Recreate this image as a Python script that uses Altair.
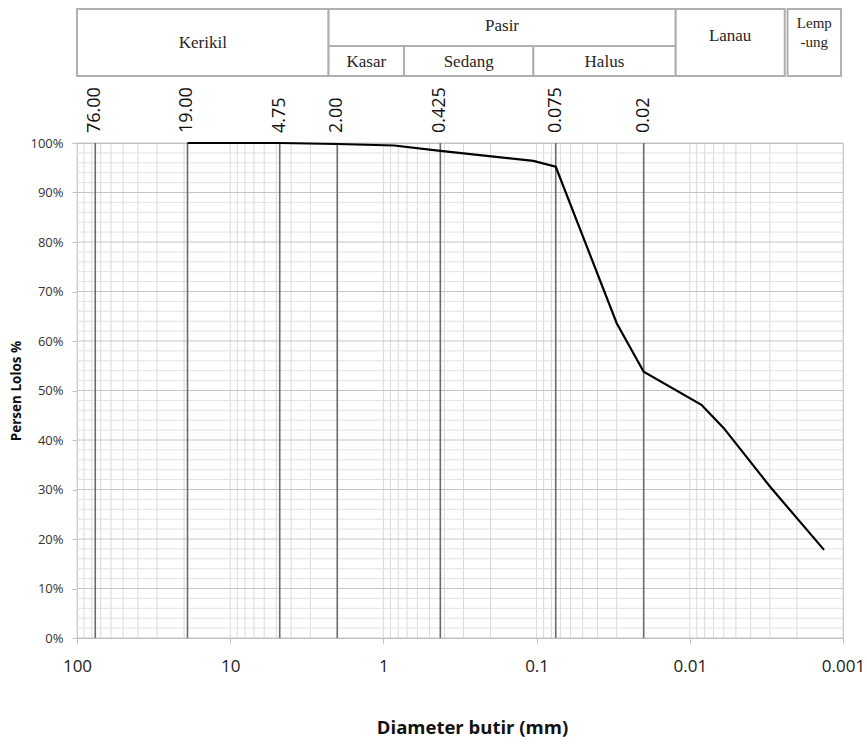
import altair as alt
import pandas as pd
import math

# ---- data ----
diameter_mm = [19.0, 4.75, 2.0, 0.85, 0.425, 0.105, 0.075, 0.030, 0.020, 0.0084, 0.0060, 0.0030, 0.00133]
percent_passing = [100.0, 100.0, 99.8, 99.5, 98.4, 96.4, 95.2, 63.6, 53.8, 47.1, 42.4, 30.6, 17.8]

sieve_sizes = [76.0, 19.0, 4.75, 2.0, 0.425, 0.075, 0.02]
sieve_labels = ["76.00", "19.00", "4.75", "2.00", "0.425", "0.075", "0.02"]

x_ticks = [100, 10, 1, 0.1, 0.01, 0.001]
y_ticks = [0.0, 0.1, 0.2, 0.3, 0.4, 0.5, 0.6, 0.7, 0.8, 0.9, 1.0]

# classification table (boundaries in mm)
full_names = ["Kerikil", "Lanau", "Lemp\n-ung"]
full_from = [100.0, 0.0124, 0.0023]
full_to = [2.28, 0.0024, 0.00103]
top_names = ["Pasir"]
top_from = [2.28]
top_to = [0.0124]
sub_names = ["Kasar", "Sedang", "Halus"]
sub_from = [2.28, 0.734, 0.105]
sub_to = [0.734, 0.105, 0.0124]

# grid lines
grid_x = [k * 10.0 ** e for e in range(-3, 2) for k in range(1, 10)] + [100.0]
grid_y_minor = [i / 50 for i in range(51) if i % 5 != 0]
grid_y_major = [i / 10 for i in range(11)]

# ---- tables ----
curve = pd.DataFrame({"d": diameter_mm, "p": [v / 100 for v in percent_passing]})
sieves = pd.DataFrame({"d": sieve_sizes, "label": sieve_labels})

def boxes(names, a, b):
    return pd.DataFrame({"name": names, "a": a, "b": b,
                         "mid": [math.sqrt(x * y) for x, y in zip(a, b)]})

full_df = boxes(full_names, full_from, full_to)
top_df = boxes(top_names, top_from, top_to)
sub_df = boxes(sub_names, sub_from, sub_to)

W, H = 766, 495
xs = alt.Scale(type="log", domain=[0.001, 100], reverse=True, nice=False)
ys = alt.Scale(domain=[0, 1], nice=False)

XAX = alt.Axis(
    values=x_ticks, format="~g", grid=False, title="Diameter butir (mm)",
    labelFont="Open Sans", labelFontSize=17, labelColor="#1a1a1a",
    labelPadding=15, tickSize=5, tickColor="#bfbfbf", domainColor="#bfbfbf",
    titleFont="Open Sans", titleFontSize=18.5, titleFontWeight="bold",
    titleColor="#111111", titlePadding=44, titleX=395, labelFlush=False)
YAX = alt.Axis(
    values=y_ticks, format=".0%", grid=False, title="Persen Lolos %",
    labelFont="Open Sans", labelFontSize=13, labelColor="#333333",
    labelPadding=9, tickSize=5, tickColor="#bfbfbf", domainColor="#bfbfbf",
    titleFont="Open Sans", titleFontSize=13.5, titleFontWeight="bold",
    titleColor="#111111", titlePadding=6)

def X(field, **kw):
    return alt.X(field, scale=xs, axis=XAX, title="Diameter butir (mm)", **kw)

def Y(field, **kw):
    return alt.Y(field, scale=ys, axis=YAX, title="Persen Lolos %", **kw)

vgrid = alt.Chart(pd.DataFrame({"g": grid_x})).mark_rule(color="#d9d9d9", strokeWidth=1).encode(
    x=X("g:Q"),
    y=alt.datum(0, scale=ys, axis=YAX, title="Persen Lolos %"),
    y2=alt.datum(1),
)

hminor = alt.Chart(pd.DataFrame({"g": grid_y_minor})).mark_rule(color="#e2e2e2", strokeWidth=1).encode(
    y=Y("g:Q"),
    x=alt.datum(100, scale=xs, axis=XAX, title="Diameter butir (mm)"),
    x2=alt.datum(0.001),
)

hmajor = alt.Chart(pd.DataFrame({"g": grid_y_major})).mark_rule(color="#c4c4c4", strokeWidth=1).encode(
    y=Y("g:Q"),
    x=alt.datum(100, scale=xs, axis=XAX, title="Diameter butir (mm)"),
    x2=alt.datum(0.001),
)

sieve_lines = alt.Chart(sieves).mark_rule(color="#6a6a6a", strokeWidth=1.6).encode(
    x=X("d:Q"),
    y=alt.datum(0, scale=ys, axis=YAX, title="Persen Lolos %"),
    y2=alt.datum(1),
)

sieve_text = alt.Chart(sieves).mark_text(
    angle=270, align="left", baseline="middle", font="Open Sans",
    fontSize=18, color="#111111").encode(
    x=X("d:Q"),
    y=alt.value(-10),
    text="label:N",
)

line = alt.Chart(curve).mark_line(color="#000000", strokeWidth=2.2).encode(
    x=X("d:Q"),
    y=Y("p:Q"),
)

box_style = dict(fill="white", stroke="#b0b0b0", strokeWidth=2)

full_box = alt.Chart(full_df).mark_rect(**box_style).encode(
    x=X("a:Q"), x2="b:Q", y=alt.value(-134), y2=alt.value(-67))
top_box = alt.Chart(top_df).mark_rect(**box_style).encode(
    x=X("a:Q"), x2="b:Q", y=alt.value(-134), y2=alt.value(-97))
sub_box = alt.Chart(sub_df).mark_rect(**box_style).encode(
    x=X("a:Q"), x2="b:Q", y=alt.value(-97), y2=alt.value(-67))

serif = dict(font="Liberation Serif", color="#262626", baseline="middle", align="center")

def tlabel(df, yv, size, names=None):
    d = df if names is None else df[df["name"].isin(names)]
    return alt.Chart(d).mark_text(fontSize=size, lineBreak="\n", lineHeight=19, **serif).encode(
        x=X("mid:Q"), y=alt.value(yv), text="name:N")

t_kerikil = tlabel(full_df, -100, 17, ["Kerikil"])
t_lanau = tlabel(full_df, -107, 17, ["Lanau"])
t_lemp = tlabel(full_df, -120, 15, ["Lemp\n-ung"])
t_pasir = tlabel(top_df, -117, 17)
t_sub = tlabel(sub_df, -81, 17)

chart = alt.layer(
    vgrid, hminor, hmajor, sieve_lines, line, sieve_text,
    full_box, top_box, sub_box, t_kerikil, t_lanau, t_lemp, t_pasir, t_sub,
).properties(
    width=W, height=H,
    padding={"left": 77, "top": 143, "right": 24, "bottom": 109},
    autosize=alt.AutoSizeParams(type="none"),
    background="white",
).configure_view(stroke="#bfbfbf", strokeWidth=1)

chart.save("out.html", embed_options={"renderer": "svg", "actions": False})
